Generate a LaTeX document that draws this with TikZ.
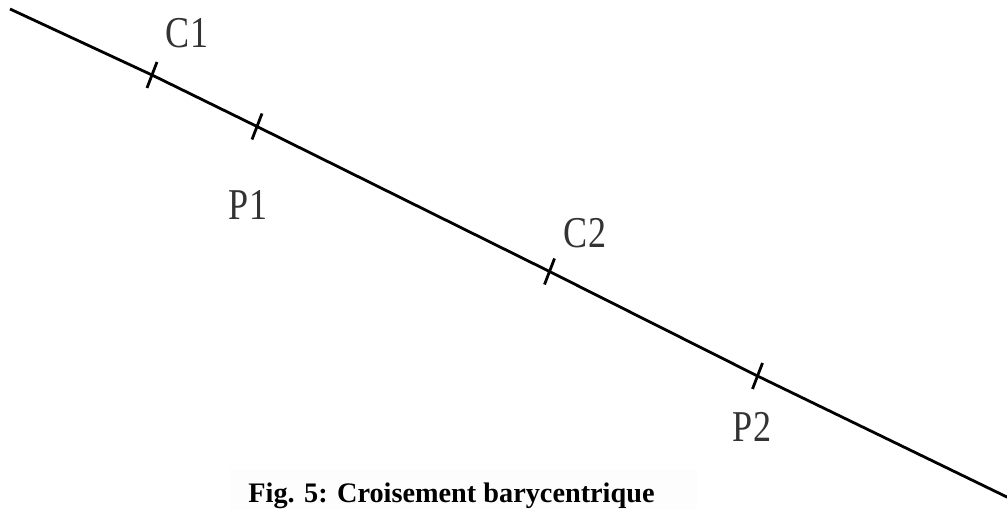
\documentclass[tikz,border=0pt]{standalone}
\usepackage{fontspec}
\setmainfont{Liberation Serif}
\usetikzlibrary{calc}
\begin{document}
\begin{tikzpicture}[x=0.75pt,y=-0.75pt,
  axisline/.style={line width=2.1pt,line join=round},
  tickmark/.style={line width=2.1pt},
  ptlabel/.style={font=\fontsize{33}{33}\selectfont,inner sep=0pt,xscale=0.82,text=black!80},
  caption/.style={font=\bfseries\fontsize{21.2}{21.2}\selectfont,inner sep=0pt}]
\useasboundingbox (0,0) rectangle (1007,509);
\fill[black!0.6] (230,469) rectangle (697,509);
\coordinate (S) at (10,9);
\coordinate (C1) at (152,75);
\coordinate (P1) at (257,126.5);
\coordinate (C2) at (549.5,271.5);
\coordinate (P2) at (757.5,376);
\coordinate (E) at (1010,498.5);
\draw[axisline] (S) -- (C1) -- (P1) -- (C2) -- (P2) -- (E);
\foreach \p in {C1,P1,C2,P2}
  \draw[tickmark] ($(\p)+(5,-13)$) -- ($(\p)+(-5,13)$);
\node[ptlabel] (lC1) at (187,33) {C1};
\node[ptlabel] (lP1) at (248,205) {P1};
\node[ptlabel] (lC2) at (585,233) {C2};
\node[ptlabel] (lP2) at (752,427) {P2};
\node[caption,anchor=base] (cap) at (451.5,503) {Fig. 5: Croisement barycentrique};
\end{tikzpicture}
\end{document}
